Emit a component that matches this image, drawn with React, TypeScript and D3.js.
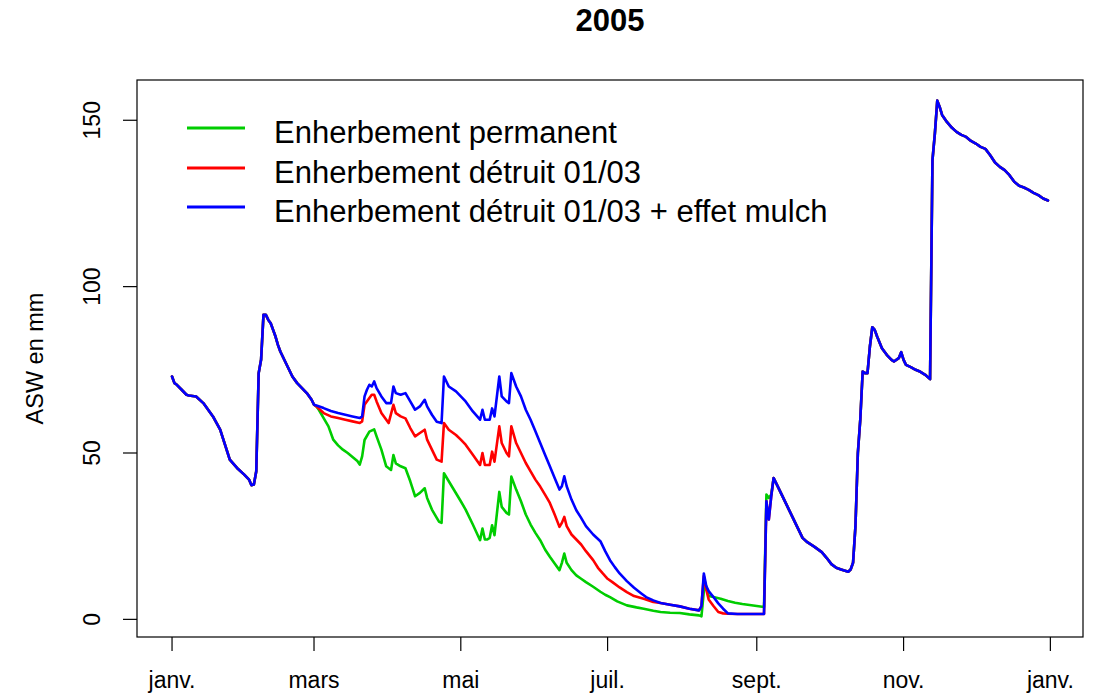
import React from "react";
import * as d3 from "d3";

// ---- Data (day offset from 1 Jan 2005, ASW in mm) ----
// Shared part (all three treatments identical until 1 March)
const startDays = [0, 1, 2, 4, 6, 7, 10, 13, 15, 17, 20, 22, 24, 27, 30, 32, 33, 34, 35, 36, 37, 38, 39, 40, 41, 42, 43, 44, 45, 46, 47, 48, 50, 52, 54, 56, 58, 59];
const startVals = [73, 71, 70.5, 69, 67.5, 67.3, 67, 65, 63, 61, 57, 52.5, 48, 45.5, 43.5, 42, 40.3, 40.5, 44.5, 74, 78, 91.5, 91.5, 90, 89, 87, 85, 82.5, 80.5, 79, 77.5, 76, 73, 71, 69.5, 68, 66, 64.5];

// Enherbement permanent (green), 1 March -> early Sept
const greenDays = [60, 61, 63, 65, 67, 69, 71, 73, 75, 77, 78, 79, 80, 82, 84, 85, 87, 89, 91, 92, 93, 95, 97, 99, 101, 103, 105, 106, 108, 110, 111, 112, 113, 115, 118, 120, 122, 125, 128, 129, 130, 131, 132, 133, 134, 136, 137, 139, 140, 141, 143, 145, 147, 149, 151, 153, 155, 157, 159, 161, 162, 163, 164, 166, 168, 170, 172, 175, 178, 180, 182, 185, 189, 193, 196, 200, 203, 207, 211, 215, 219, 220, 221, 222, 223, 225, 228, 231, 234, 237, 240, 243, 246, 247, 248, 249];
const greenVals = [64, 63, 60.5, 58, 54, 52.3, 51, 50, 48.8, 47.6, 46.5, 49, 53.9, 56.4, 57.1, 55, 51, 46, 44.9, 49.4, 46.9, 46, 45.4, 41.5, 37, 38, 39.4, 36.5, 33, 30.5, 29.3, 29, 43.9, 41.5, 37.9, 35.5, 33, 28.5, 23.8, 27.3, 24, 24, 24.5, 28.3, 25.3, 38.3, 33.8, 32, 31.5, 42.9, 39, 35.5, 31.5, 28.5, 26, 23.8, 21, 18.8, 16.8, 14.8, 17, 19.8, 17, 14.8, 13.2, 12.2, 11.2, 9.8, 8.3, 7.4, 6.7, 5.4, 4.2, 3.6, 3.2, 2.6, 2.2, 2.0, 1.9, 1.5, 1.2, 0.9, 8.5, 10, 7, 6.7, 6.2, 5.5, 5, 4.6, 4.3, 4, 3.7, 37.5, 36.5, 37.5];

// Enherbement détruit 01/03 (red)
const redDays = [60, 63, 66, 69, 72, 75, 78, 79, 80, 82, 83, 84, 85, 87, 90, 92, 93, 95, 97, 99, 101, 103, 105, 106, 108, 110, 112, 113, 115, 118, 120, 122, 125, 128, 129, 130, 132, 133, 134, 136, 137, 139, 140, 141, 143, 145, 147, 149, 151, 153, 155, 157, 159, 161, 162, 163, 164, 166, 168, 170, 172, 175, 177, 179, 181, 183, 186, 189, 192, 196, 200, 203, 207, 211, 215, 219, 220, 221, 222, 223, 225, 227, 229, 231, 235, 240, 246, 247, 248, 249];
const redVals = [64, 62, 61, 60.5, 60, 59.5, 59, 59.5, 64.5, 66.5, 67.5, 67.5, 65.5, 62, 59, 64.5, 62, 61, 60.4, 57.5, 55, 56, 57, 54, 51, 48, 47.4, 59, 57, 55.4, 54, 52.5, 49.5, 46.4, 50, 46.4, 46.4, 50.4, 47.4, 58, 53, 50, 49, 58, 53, 50, 47, 44.5, 42, 39.9, 37.5, 35, 31.5, 27.8, 29, 30.8, 28, 25.5, 24, 22.5, 20.5, 17.8, 15.5, 13.8, 12.2, 11.2, 9.6, 8.2, 7, 6.2, 5.2, 4.9, 4.4, 3.9, 3.2, 2.7, 4, 13, 9, 6, 4, 2.2, 1.8, 1.7, 1.6, 1.6, 1.6, 35.5, 30, 37];

// Enherbement détruit 01/03 + effet mulch (blue)
const blueDays = [60, 63, 66, 69, 72, 75, 78, 79, 80, 81, 82, 83, 84, 85, 87, 89, 91, 92, 93, 95, 97, 99, 101, 103, 105, 106, 108, 110, 112, 113, 115, 118, 120, 122, 125, 128, 129, 130, 132, 133, 134, 136, 137, 139, 140, 141, 143, 145, 147, 149, 151, 153, 155, 157, 159, 161, 162, 163, 164, 166, 168, 170, 172, 175, 178, 180, 182, 184, 186, 189, 192, 195, 197, 200, 203, 207, 211, 215, 219, 220, 221, 222, 223, 225, 227, 229, 231, 235, 240, 246, 247, 248, 249];
const blueVals = [64.3, 63.5, 62.6, 62, 61.5, 61, 60.5, 61, 67, 69, 70.5, 70, 71.5, 69.5, 67, 65, 65, 70, 68, 67.5, 68, 65.5, 63, 64, 66, 64, 61.5, 59.4, 59, 73, 70, 68.5, 67, 65.5, 62.5, 60, 63, 60, 60, 63.4, 61, 73, 67, 65.5, 65, 74, 70, 67, 63, 60, 56.5, 53, 49.5, 46, 42.5, 39, 40, 43, 40, 36, 32.8, 30.5, 28, 25.5, 23.5, 20.5, 17.8, 15.7, 13.8, 11.5, 9.5, 7.8, 6.7, 5.7, 4.9, 4.4, 3.9, 3.2, 2.7, 4, 13.8, 10, 8.5, 6.7, 4.8, 3.2, 1.8, 1.6, 1.6, 1.6, 35.5, 30, 37];

// Shared tail (all three identical from mid-September)
const tailDays = [250, 252, 254, 256, 258, 260, 262, 264, 267, 270, 272, 274, 276, 278, 281, 282, 283, 284, 285, 286, 287, 288, 289, 290, 291, 292, 293, 295, 297, 299, 300, 302, 303, 304, 305, 307, 309, 311, 313, 315, 316, 317, 318, 319, 320, 322, 324, 326, 328, 330, 332, 334, 336, 338, 340, 342, 344, 346, 348, 350, 352, 354, 356, 358, 360, 362, 364];
const tailVals = [42.5, 39.5, 36.5, 33.5, 30.5, 27.5, 24.5, 23.2, 21.8, 20.2, 18.5, 16.6, 15.5, 15, 14.3, 15, 17, 28, 50, 60, 74.5, 74, 74, 82, 87.8, 87, 85, 81.5, 79.5, 78, 77.5, 78.5, 80.3, 78, 76.5, 75.8, 75, 74.4, 73.5, 72.2, 138, 146, 155.9, 154, 151.6, 149.5, 147.8, 146.5, 145.6, 145, 143.8, 143, 142, 141.4, 139.5, 137.3, 136, 135, 133.5, 131.5, 130.3, 129.8, 129.1, 128.2, 127.5, 126.5, 125.9];

const seriesNames = [
  "Enherbement permanent",
  "Enherbement détruit 01/03",
  "Enherbement détruit 01/03 + effet mulch",
];
const seriesColors = ["#00CD00", "#FF0000", "#0000FF"];

const tickMonths = [0, 2, 4, 6, 8, 10, 12];
const tickLabels = ["janv.", "mars", "mai", "juil.", "sept.", "nov.", "janv."];
const yTicks = [0, 50, 100, 150];

const title = "2005";
const yTitle = "ASW en mm";

type Pt = { date: Date; v: number };

const toDate = (d: number) => new Date(Date.UTC(2005, 0, 1 + d));
const build = (days: number[], vals: number[]): Pt[] => {
  const all = [...startDays, ...days, ...tailDays];
  const allV = [...startVals, ...vals, ...tailVals];
  return all.map((d, i) => ({ date: toDate(d), v: allV[i] }));
};

export default function App() {
  const W = 1094;
  const H = 696;
  const left = 137, right = 1083, top = 80, bottom = 637;

  const series = [
    build(greenDays, greenVals),
    build(redDays, redVals),
    build(blueDays, blueVals),
  ];
  const allPts = series.flat();

  // R style 4% axis extension
  const [t0, t1] = d3.extent(allPts, (p) => p.date.getTime()) as [number, number];
  const tp = (t1 - t0) * 0.04;
  const x = d3.scaleUtc().domain([new Date(t0 - tp), new Date(t1 + tp)]).range([left, right]);
  const [v0, v1] = d3.extent(allPts, (p) => p.v) as [number, number];
  const vp = (v1 - v0) * 0.04;
  const y = d3.scaleLinear().domain([v0 - vp, v1 + vp]).range([bottom, top]);

  const line = d3
    .line<Pt>()
    .x((p) => x(p.date))
    .y((p) => y(p.v));

  const font = "'Liberation Sans', Arial, sans-serif";
  const legendY = [128, 168, 207];

  return (
    <svg
      width={W}
      height={H}
      style={{ position: "absolute", left: 0, top: 0, background: "#fff" }}
      fontFamily={font}
    >
      <rect x={0} y={0} width={W} height={H} fill="#fff" />
      <text x={(left + right) / 2} y={31} textAnchor="middle" fontSize={31} fontWeight="bold" fill="#000">
        {title}
      </text>

      {/* lines */}
      {series.map((s, i) => (
        <path key={i} d={line(s) || ""} fill="none" stroke={seriesColors[i]} strokeWidth={2.6} strokeLinejoin="round" strokeLinecap="round" />
      ))}

      {/* box */}
      <rect x={left} y={top} width={right - left} height={bottom - top} fill="none" stroke="#000" strokeWidth={1.2} />

      {/* x axis */}
      {tickMonths.map((m, i) => {
        const xp = x(new Date(Date.UTC(2005, m, 1)));
        return (
          <g key={i}>
            <line x1={xp} x2={xp} y1={bottom} y2={bottom + 14} stroke="#000" strokeWidth={1.2} />
            <text x={xp} y={688} textAnchor="middle" fontSize={23} fill="#000">
              {tickLabels[i]}
            </text>
          </g>
        );
      })}

      {/* y axis */}
      {yTicks.map((t) => {
        const yp = y(t);
        return (
          <g key={t}>
            <line x1={left - 14} x2={left} y1={yp} y2={yp} stroke="#000" strokeWidth={1.2} />
            <text transform={`translate(100,${yp}) rotate(-90)`} textAnchor="middle" fontSize={23} fill="#000">
              {t}
            </text>
          </g>
        );
      })}
      <text transform={`translate(43,${(top + bottom) / 2}) rotate(-90)`} textAnchor="middle" fontSize={23.5} fill="#000">
        {yTitle}
      </text>

      {/* legend */}
      {seriesNames.map((n, i) => (
        <g key={n}>
          <line x1={187} x2={245} y1={legendY[i]} y2={legendY[i]} stroke={seriesColors[i]} strokeWidth={3} />
          <text x={274} y={legendY[i] + 15} fontSize={31} fill="#000">
            {n}
          </text>
        </g>
      ))}
    </svg>
  );
}
